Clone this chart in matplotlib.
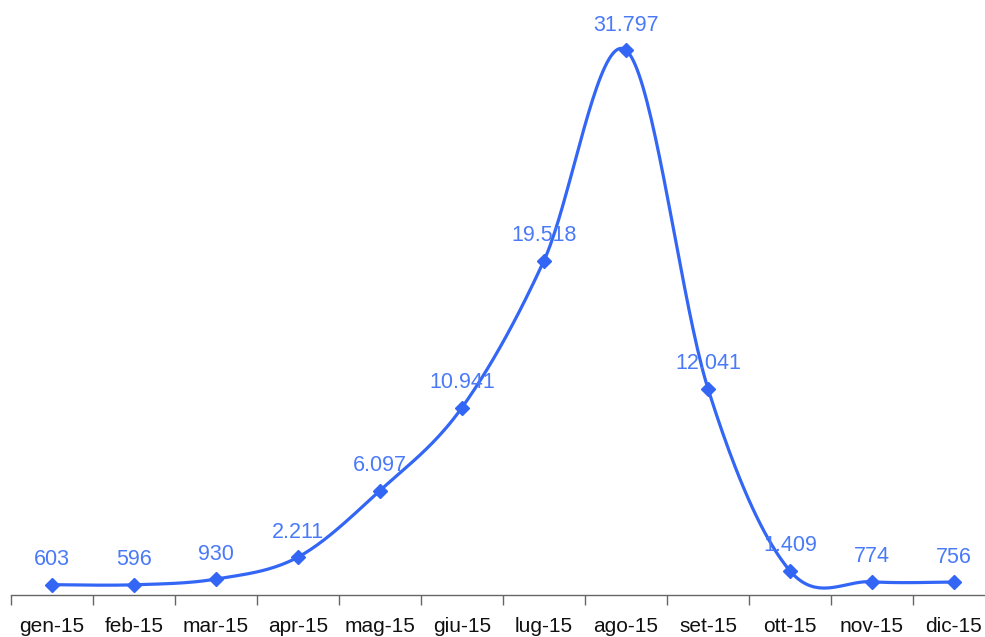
import numpy as np
import matplotlib
matplotlib.use("Agg")
import matplotlib.pyplot as plt

months = ["gen-15", "feb-15", "mar-15", "apr-15", "mag-15", "giu-15",
          "lug-15", "ago-15", "set-15", "ott-15", "nov-15", "dic-15"]
values = [603, 596, 930, 2211, 6097, 10941, 19518, 31797, 12041, 1409, 774, 756]

plt.rcParams["font.family"] = ["Liberation Sans", "DejaVu Sans"]

line_color = "#3366F5"
label_color = "#4A7AF7"


def smooth_curve(xs, ys, steps=40):
    """Catmull-Rom style cubic Bezier through every point."""
    xs = np.asarray(xs, float)
    ys = np.asarray(ys, float)
    n = len(xs)
    px = np.concatenate([[xs[0]], xs, [xs[-1]]])
    py = np.concatenate([[ys[0]], ys, [ys[-1]]])
    out_x, out_y = [], []
    t = np.linspace(0, 1, steps)
    for i in range(n - 1):
        p0 = np.array([px[i], py[i]])
        p1 = np.array([px[i + 1], py[i + 1]])
        p2 = np.array([px[i + 2], py[i + 2]])
        p3 = np.array([px[i + 3], py[i + 3]])
        c1 = p1 + (p2 - p0) / 6.0
        c2 = p2 - (p3 - p1) / 6.0
        b = ((1 - t) ** 3)[:, None] * p1 + (3 * (1 - t) ** 2 * t)[:, None] * c1 \
            + (3 * (1 - t) * t ** 2)[:, None] * c2 + (t ** 3)[:, None] * p2
        out_x.extend(b[:, 0])
        out_y.extend(b[:, 1])
    return np.array(out_x), np.array(out_y)


def fmt(v):
    return f"{v:,}".replace(",", ".")


fig = plt.figure(figsize=(9.85, 6.37), dpi=100)
ax = fig.add_axes([11 / 985, 42 / 637, 984 / 985, 598 / 637])

x = np.arange(len(months))
sx, sy = smooth_curve(x, values)
ax.plot(sx, sy, color=line_color, lw=2.3, zorder=2, clip_on=False)
ax.plot(x, values, linestyle="none", marker="D", markersize=7.5,
        color=line_color, zorder=3, clip_on=False)

for xi, v in zip(x, values):
    ax.annotate(fmt(v), (xi, v), xytext=(0, 18), textcoords="offset points",
                ha="center", va="center", fontsize=15.5, color=label_color)

ax.set_xlim(-0.5, len(months) - 0.5)
ax.set_ylim(0, 34900)

ax.set_xticks(x)
ax.set_xticklabels(months, fontsize=15, color="#111111")
ax.set_xticks(np.arange(-0.5, len(months), 1.0), minor=True)
ax.tick_params(axis="x", which="major", length=0, pad=16)
ax.tick_params(axis="x", which="minor", length=7, width=1, color="#666666")
ax.set_yticks([])

for side in ("top", "right", "left"):
    ax.spines[side].set_visible(False)
ax.spines["bottom"].set_color("#666666")
ax.spines["bottom"].set_linewidth(1)

fig.savefig("out.png", dpi=100)
